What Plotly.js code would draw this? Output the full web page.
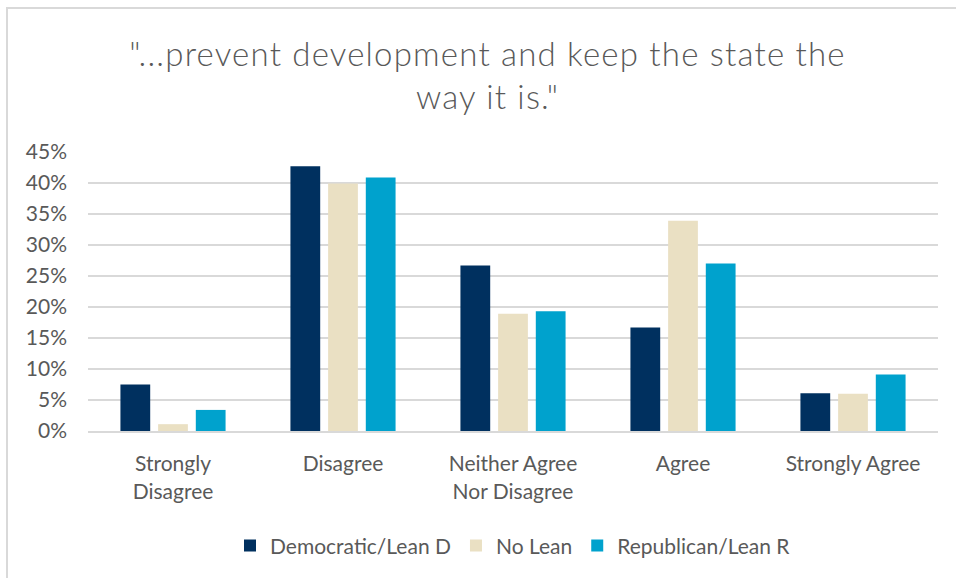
<!DOCTYPE html>
<html>
<head>
<meta charset="utf-8">
<script src="https://cdn.plot.ly/plotly-3.0.1.min.js"></script>
<style>
  html, body { margin: 0; padding: 0; background: #fff; }
  #wrap { position: relative; width: 956px; height: 578px; }
  #chart { width: 956px; height: 578px; }
  #frame { position: absolute; left: 6px; top: 7px; right: 0; bottom: 0;
           border-left: 2px solid #d9d9d9; border-top: 2px solid #d9d9d9; pointer-events: none; }
  #chart .gtitle { letter-spacing: 1.2px; }
</style>
</head>
<body>
<div id="wrap"><div id="chart"></div><div id="frame"></div></div>
<script>
const categories = ["Strongly<br>Disagree", "Disagree", "Neither Agree<br>Nor Disagree", "Agree", "Strongly Agree"];
const democratic = [0.075, 0.427, 0.267, 0.167, 0.061];
const noLean = [0.011, 0.399, 0.189, 0.339, 0.060];
const republican = [0.034, 0.409, 0.193, 0.270, 0.091];
const seriesNames = ["Democratic/Lean D", "No Lean", "Republican/Lean R"];
const colors = ["#00305F", "#EAE0C3", "#00A2CD"];
const tickVals = [0, 0.05, 0.10, 0.15, 0.20, 0.25, 0.30, 0.35, 0.40, 0.45];
const tickText = ["0%", "5%", "10%", "15%", "20%", "25%", "30%", "35%", "40%", "45%"];

const font = "Lato, 'Open Sans', sans-serif";
const traces = [democratic, noLean, republican].map((vals, i) => ({
  type: "bar",
  name: seriesNames[i],
  x: categories,
  y: vals,
  marker: { color: colors[i] },
  hoverinfo: "skip"
}));

const layout = {
  width: 956, height: 578,
  paper_bgcolor: "#fff", plot_bgcolor: "#fff",
  margin: { l: 88, r: 18, t: 152, b: 147 },
  barmode: "group",
  bargap: 0.335,
  bargroupgap: 0.21,
  font: { family: font, color: "#595959", size: 21 },
  title: {
    text: "\"...prevent development and keep the state the<br>way it is.\"",
    font: { family: font, size: 33, color: "#595959", weight: 300 },
    x: 0.51, xanchor: "center",
    y: 1 - 66 / 578, yanchor: "middle"
  },
  xaxis: {
    showgrid: false, showline: true, linecolor: "#d9d9d9", linewidth: 2,
    ticks: "", tickfont: { size: 21, color: "#595959" }, ticklabelstandoff: 13,
    fixedrange: true
  },
  yaxis: {
    range: [0, 0.45], tickvals: tickVals, ticktext: tickText,
    showgrid: true, gridcolor: "#d9d9d9", gridwidth: 2,
    zeroline: false, showline: false, ticks: "",
    tickfont: { size: 21, color: "#595959" }, ticklabelstandoff: 20,
    fixedrange: true
  },
  legend: {
    orientation: "h", x: 0.5, xanchor: "center", y: -0.412, yanchor: "middle",
    font: { size: 21, color: "#595959" }, itemwidth: 30, traceorder: "normal"
  },
  showlegend: true
};

Plotly.newPlot("chart", traces, layout, { staticPlot: true, displayModeBar: false });
</script>
</body>
</html>
